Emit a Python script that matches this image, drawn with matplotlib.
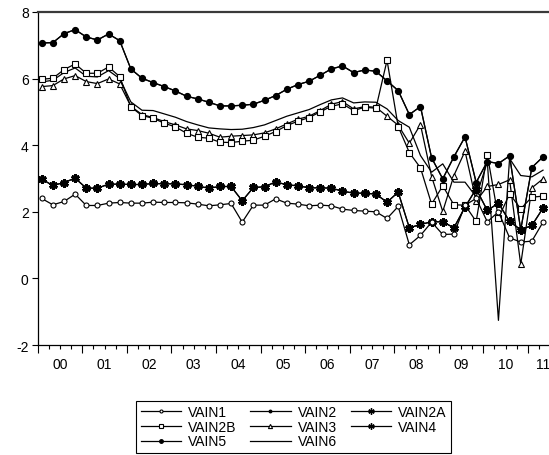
import numpy as np
import matplotlib
matplotlib.use('Agg')
from matplotlib import pyplot as plt
from matplotlib import transforms

plt.rcParams['font.family'] = ['Liberation Sans', 'DejaVu Sans']
plt.rcParams['axes.unicode_minus'] = False

# quarterly observations, 2000Q1 .. 2011Q2
year_labels = ['00', '01', '02', '03', '04', '05', '06', '07', '08', '09', '10', '11']

vain1 = [2.40, 2.21, 2.31, 2.53, 2.19, 2.19, 2.26, 2.28, 2.26, 2.26, 2.29, 2.28,
         2.28, 2.27, 2.23, 2.18, 2.21, 2.25, 1.69, 2.20, 2.20, 2.39, 2.26, 2.23,
         2.18, 2.20, 2.18, 2.08, 2.04, 2.02, 2.00, 1.80, 2.16, 1.01, 1.29, 1.69,
         1.32, 1.33, 2.20, 2.40, 1.70, 2.00, 1.22, 1.09, 1.12, 1.69]
vain5 = [7.07, 7.08, 7.35, 7.47, 7.25, 7.16, 7.34, 7.14, 6.29, 6.01, 5.88, 5.76,
         5.63, 5.47, 5.39, 5.29, 5.18, 5.18, 5.20, 5.23, 5.35, 5.49, 5.68, 5.82,
         5.92, 6.10, 6.29, 6.38, 6.18, 6.26, 6.22, 5.93, 5.64, 4.92, 5.16, 3.62,
         2.99, 3.65, 4.25, 2.88, 3.51, 3.45, 3.68, 1.46, 3.33, 3.65]
vain2 = list(vain5)
vain4 = [2.98, 2.79, 2.88, 3.01, 2.71, 2.71, 2.83, 2.83, 2.82, 2.82, 2.85, 2.84,
         2.84, 2.81, 2.77, 2.71, 2.76, 2.76, 2.33, 2.73, 2.75, 2.90, 2.81, 2.78,
         2.72, 2.72, 2.71, 2.62, 2.56, 2.56, 2.53, 2.29, 2.59, 1.52, 1.62, 1.70,
         1.70, 1.52, 2.14, 2.69, 2.04, 2.26, 1.71, 1.46, 1.59, 2.11]
vain2a = list(vain4)
vain2b = [5.98, 6.01, 6.27, 6.44, 6.16, 6.16, 6.35, 6.06, 5.15, 4.89, 4.81, 4.66,
          4.55, 4.36, 4.24, 4.21, 4.09, 4.08, 4.12, 4.15, 4.27, 4.41, 4.59, 4.72,
          4.83, 5.00, 5.17, 5.24, 5.04, 5.14, 5.11, 6.55, 4.56, 3.78, 3.32, 2.23,
          2.78, 2.21, 2.20, 1.71, 3.72, 1.81, 2.54, 2.09, 2.44, 2.47]
vain3 = [5.76, 5.79, 5.99, 6.09, 5.91, 5.85, 5.99, 5.84, 5.17, 4.92, 4.83, 4.71,
         4.61, 4.49, 4.44, 4.36, 4.24, 4.27, 4.29, 4.31, 4.37, 4.49, 4.64, 4.78,
         4.87, 5.04, 5.23, 5.31, 5.09, 5.16, 5.14, 4.87, 4.60, 4.06, 4.62, 3.06,
         2.01, 3.09, 3.82, 2.32, 2.76, 2.82, 2.96, 0.42, 2.72, 2.99]
vain6 = [5.90, 5.95, 6.18, 6.32, 6.07, 6.05, 6.24, 6.00, 5.30, 5.05, 5.04, 4.94,
         4.84, 4.71, 4.61, 4.52, 4.49, 4.47, 4.48, 4.53, 4.61, 4.74, 4.87, 4.97,
         5.07, 5.22, 5.36, 5.42, 5.27, 5.30, 5.29, 5.09, 4.74, 4.54, 3.69, 3.19,
         3.44, 2.89, 2.89, 2.45, 3.50, -1.26, 3.60, 3.09, 3.05, 3.25]

t = 2000 + np.arange(len(vain1)) / 4 + 0.09

fig = plt.figure(figsize=(5.49, 4.56), dpi=100)
ax = fig.add_axes([0.0687, 0.2412, 0.9293, 0.7303])

lw = 0.9
star = (6, 2, 0)
h = {}
h['VAIN6'], = ax.plot(t, vain6, color='k', lw=lw, label='VAIN6')
h['VAIN3'], = ax.plot(t, vain3, color='k', lw=lw, marker='^', ms=5, mfc='white', mew=0.8, label='VAIN3')
h['VAIN2B'], = ax.plot(t, vain2b, color='k', lw=lw, marker='s', ms=5, mfc='white', mew=0.8, label='VAIN2B')
h['VAIN2'], = ax.plot(t, vain2, color='k', lw=lw, marker='o', ms=3, label='VAIN2')
h['VAIN5'], = ax.plot(t, vain5, color='k', lw=lw, marker='o', ms=4.2, label='VAIN5')
h['VAIN2A'], = ax.plot(t, vain2a, color='k', lw=lw, marker=star, ms=6, mew=2.0, label='VAIN2A')
h['VAIN4'], = ax.plot(t, vain4, color='k', lw=lw, marker=star, ms=6, mew=2.0, label='VAIN4')
h['VAIN1'], = ax.plot(t, vain1, color='k', lw=lw, marker='o', ms=3.6, mfc='white', mew=0.8, label='VAIN1')

ax.set_xlim(2000, 2011.45)
ax.set_ylim(-2, 8)
ax.set_yticks([-2, 0, 2, 4, 6, 8])
ax.tick_params(axis='y', direction='out', length=4.5, width=0.8, labelsize=10, pad=2)

ax.set_xticks(np.arange(2000, 2012))
ax.set_xticks(np.arange(2000, 2011.5, 0.25), minor=True)
ax.set_xticklabels([])
ax.tick_params(axis='x', which='major', direction='out', length=5.5, width=0.8)
ax.tick_params(axis='x', which='minor', direction='out', length=3, width=0.8)

trans = transforms.blended_transform_factory(ax.transData, ax.transAxes)
for k, lab in enumerate(year_labels):
    xc = min(2000 + k + 0.5, 2011.34)
    ax.text(xc, -0.057, lab, transform=trans, ha='center', va='center', fontsize=10)

ax.spines['right'].set_visible(False)
ax.spines['top'].set_color('#3a3a3a')
ax.spines['top'].set_linewidth(1.6)
ax.spines['left'].set_linewidth(0.9)
ax.spines['bottom'].set_linewidth(0.9)

order = ['VAIN1', 'VAIN2B', 'VAIN5', 'VAIN2', 'VAIN3', 'VAIN6', 'VAIN2A', 'VAIN4']
leg = fig.legend([h[k] for k in order], order, ncol=3, loc='upper center',
                 bbox_to_anchor=(293.5 / 549, 1 - 395 / 456), fontsize=10,
                 fancybox=False, edgecolor='k', framealpha=1, handlelength=2.9,
                 handletextpad=0.5, columnspacing=1.0, labelspacing=0.05,
                 borderpad=0.3, markerscale=0.6)
leg.get_frame().set_linewidth(0.8)
# thinner asterisks inside the legend box
for lh in leg.legend_handles:
    if lh.get_marker() == star:
        lh.set_markeredgewidth(1.0)
        lh.set_markersize(4.5)

plt.savefig('out.png', dpi=100)
